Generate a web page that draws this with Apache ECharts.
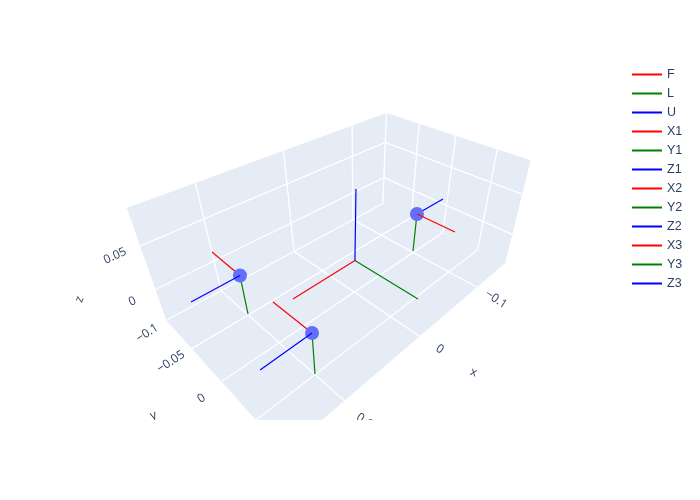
<!DOCTYPE html>
<html><head><meta charset="utf-8">
<style>html,body{margin:0;background:#fff}#c{width:700px;height:500px}</style>
<script src="https://cdn.jsdelivr.net/npm/echarts@6/dist/echarts.min.js"></script>
</head><body><div id="c"></div>
<script>
// scene ranges and ticks
const xRange=[-0.16,0.162], yRange=[-0.1,0.086], zRange=[-0.04,0.088];
const xTicks=[-0.1,0,0.1], yTicks=[-0.1,-0.05,0,0.05], zTicks=[0,0.05];
const xTickLabels=['\u22120.1','0','0.1'];
const yTickLabels=['\u22120.1','\u22120.05','0'];
const zTickLabels=['0','0.05'];

// trace values: start and end as [x,y,z]
const bodyOrigin=[-0.0027,-0.0015,0];
const F=[bodyOrigin,[0.0783,-0.0011,0]];
const L=[bodyOrigin,[-0.0031,0.0777,0]];
const U=[bodyOrigin,[0,0.0028,0.0843]];
const rotor1=[0.0941,-0.0624,0], rotor2=[0.0931,0.0418,0], rotor3=[-0.1184,-0.0125,0];
const X1=[rotor1,[0.0935,-0.1144,0]];
const Y1=[rotor1,[0.0941,-0.0616,-0.0511]];
const Z1=[rotor1,[0.1467,-0.0618,0]];
const X2=[rotor2,[0.0937,-0.0106,0]];
const Y2=[rotor2,[0.0931,0.041,-0.0537]];
const Z2=[rotor2,[0.1464,0.0425,0]];
const X3=[rotor3,[-0.1187,0.0397,0]];
const Y3=[rotor3,[-0.1184,-0.0134,-0.0544]];
const Z3=[rotor3,[-0.1694,-0.0117,0]];
const rotors=[rotor1,rotor2,rotor3];

// camera: 3x4 projection from scene to page pixels
const camera=[[-1144.185,248.947,-467.022,354.144],[96.069,99.407,-1128.31,262.306],[-1.27,-1.312,-1.306,1]];
function project(p){
  const r=i=>camera[i][0]*p[0]+camera[i][1]*p[1]+camera[i][2]*p[2]+camera[i][3];
  const d=r(2); return [r(0)/d,r(1)/d];
}
const [xa,xb]=xRange,[ya,yb]=yRange,[za,zb]=zRange;
const panel='#e5ecf6', gridCol='#ffffff', ink='#2a3f5f';
const shapes=[
  {poly:[[xa,ya,za],[xb,ya,za],[xb,yb,za],[xa,yb,za]]},
  {poly:[[xa,ya,za],[xb,ya,za],[xb,ya,zb],[xa,ya,zb]]},
  {poly:[[xa,ya,za],[xa,yb,za],[xa,yb,zb],[xa,ya,zb]]}
];
xTicks.forEach(x=>{shapes.push({seg:[[x,ya,za],[x,yb,za]]});shapes.push({seg:[[x,ya,za],[x,ya,zb]]});});
yTicks.forEach(y=>{shapes.push({seg:[[xa,y,za],[xb,y,za]]});shapes.push({seg:[[xa,y,za],[xa,y,zb]]});});
zTicks.forEach(z=>{shapes.push({seg:[[xa,ya,z],[xb,ya,z]]});shapes.push({seg:[[xa,ya,z],[xa,yb,z]]});});

// label offsets in pixels from the projected tick, and rotation in degrees
const xLabelOffset=[[19,12],[20,13],[20,20]], yLabelOffset=[[-19,13],[-21,13],[-20,17]], zLabelOffset=[[-23,12],[-25,10]];
const texts=[];
xTicks.forEach((x,i)=>texts.push({p:[x,yb,za],o:xLabelOffset[i],t:xTickLabels[i],r:-33}));
yTicks.slice(0,3).forEach((y,i)=>texts.push({p:[xb,y,za],o:yLabelOffset[i],t:yTickLabels[i],r:33}));
zTicks.forEach((z,i)=>texts.push({p:[xb,ya,z],o:zLabelOffset[i],t:zTickLabels[i],r:25}));
texts.push({p:[0,yb,za],o:[54,36],t:'x',r:-20,s:12});
texts.push({p:[xb,0,za],o:[-68,34],t:'y',r:20,s:12});
texts.push({p:[xb,ya,0],o:[-76,10],t:'z',r:70,s:12});

const traces=[
  ['F',F,'red',2],['L',L,'green',2],['U',U,'blue',2],
  ['X1',X1,'red',2],['Y1',Y1,'green',2],['Z1',Z1,'blue',4],
  ['X2',X2,'red',2],['Y2',Y2,'green',2],['Z2',Z2,'blue',4],
  ['X3',X3,'red',4],['Y3',Y3,'green',2],['Z3',Z3,'blue',2]
];
const series=[
  {type:'custom',silent:true,z:1,clip:true,data:shapes.map((s,i)=>[i]),renderItem(params,api){
    const s=shapes[params.dataIndex];
    if(s.poly) return {type:'polygon',shape:{points:s.poly.map(p=>api.coord(project(p)))},style:{fill:panel}};
    const a=api.coord(project(s.seg[0])),b=api.coord(project(s.seg[1]));
    return {type:'line',shape:{x1:a[0],y1:a[1],x2:b[0],y2:b[1]},style:{stroke:gridCol,lineWidth:1.3}};
  }},
  {type:'custom',silent:true,z:5,clip:true,data:texts.map((t,i)=>[i]),renderItem(params,api){
    const t=texts[params.dataIndex],a=api.coord(project(t.p));
    return {type:'text',x:a[0]+t.o[0],y:a[1]+t.o[1],rotation:t.r*Math.PI/180,
      style:{text:t.t,x:0,y:0,align:'center',verticalAlign:'middle',fill:ink,font:(t.s||12)+'px "Open Sans"'}};
  }},
  {type:'scatter',silent:true,z:3,symbolSize:14,itemStyle:{color:'#636efa',opacity:1},data:rotors.map(project)}
];
traces.forEach(([name,pts,col,z])=>series.push({type:'line',name,z,silent:true,showSymbol:false,color:col,
  lineStyle:{color:col,width:1.2},data:pts.map(project)}));

const chart=echarts.init(document.getElementById('c'),null,{renderer:'canvas'});
chart.setOption({
  animation:false,backgroundColor:'#ffffff',
  grid:{left:0,top:0,width:700,height:420},
  xAxis:{type:'value',min:0,max:700,show:false},
  yAxis:{type:'value',min:0,max:420,inverse:true,show:false},
  legend:{orient:'vertical',left:632,top:68,padding:0,itemWidth:30,itemHeight:2,itemGap:6,icon:'rect',selectedMode:false,
    textStyle:{color:ink,fontSize:12.5,fontFamily:'"Liberation Sans"'},data:traces.map(t=>t[0])},
  series
});
</script></body></html>
